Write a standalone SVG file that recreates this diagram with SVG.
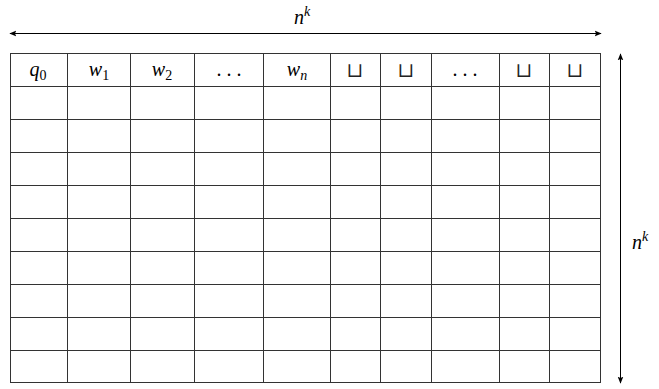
<svg xmlns="http://www.w3.org/2000/svg" width="659" height="389" viewBox="0 0 659 389">
<style>
.g{stroke:#333;stroke-width:1;fill:none}
.a{stroke:#000;stroke-width:1;fill:none}
.t{font-family:"Liberation Serif","DejaVu Serif",serif;font-style:italic;font-size:20px;fill:#000;text-anchor:middle}
.s{font-style:normal;font-size:14px}
.i{font-style:italic}
.d{font-style:normal}
.c{font-family:"DejaVu Sans","DejaVu Serif",sans-serif;font-weight:200;font-size:20px;fill:#222;text-anchor:middle}
</style>
<defs>
<marker id="ah" viewBox="0 0 10 10" refX="9" refY="5" markerWidth="7" markerHeight="7" orient="auto-start-reverse" markerUnits="userSpaceOnUse">
<path d="M0,1 L10,5 L0,9 L2,5 Z" fill="#000"/>
</marker>
</defs>
<g id="grid">
<rect class="g" x="10.5" y="53.5" width="590" height="329"/>
<path class="g" d="M67.5,53.5V382.5M130.5,53.5V382.5M194.5,53.5V382.5M263.5,53.5V382.5M330.5,53.5V382.5M380.5,53.5V382.5M431.5,53.5V382.5M499.5,53.5V382.5M549.5,53.5V382.5"/>
<path class="g" d="M10.5,86.5H600.5M10.5,119.5H600.5M10.5,152.5H600.5M10.5,185.5H600.5M10.5,218.5H600.5M10.5,251.5H600.5M10.5,284.5H600.5M10.5,317.5H600.5M10.5,350.5H600.5"/>
</g>
<g id="cells">
<text class="t" x="38" y="76">q<tspan class="s" dy="4">0</tspan></text>
<text class="t" x="99" y="76">w<tspan class="s" dy="4">1</tspan></text>
<text class="t" x="162" y="76">w<tspan class="s" dy="4">2</tspan></text>
<text class="t d" x="229" y="76">. . .</text>
<text class="t" x="297" y="76">w<tspan class="s i" dy="4">n</tspan></text>
<text class="c" x="355" y="77">⊔︎</text>
<text class="c" x="406" y="77">⊔︎</text>
<text class="t d" x="465" y="76">. . .</text>
<text class="c" x="524" y="77">⊔︎</text>
<text class="c" x="575" y="77">⊔︎</text>
</g>
<g id="connectors">
<line class="a" x1="10" y1="33.5" x2="601" y2="33.5" marker-start="url(#ah)" marker-end="url(#ah)"/>
<line class="a" x1="620.5" y1="54" x2="620.5" y2="383" marker-start="url(#ah)" marker-end="url(#ah)"/>
</g>
<g id="labels">
<text class="t" x="302" y="24">n<tspan class="s i" dy="-8">k</tspan></text>
<text class="t" x="640" y="249">n<tspan class="s i" dy="-8">k</tspan></text>
</g>
</svg>
